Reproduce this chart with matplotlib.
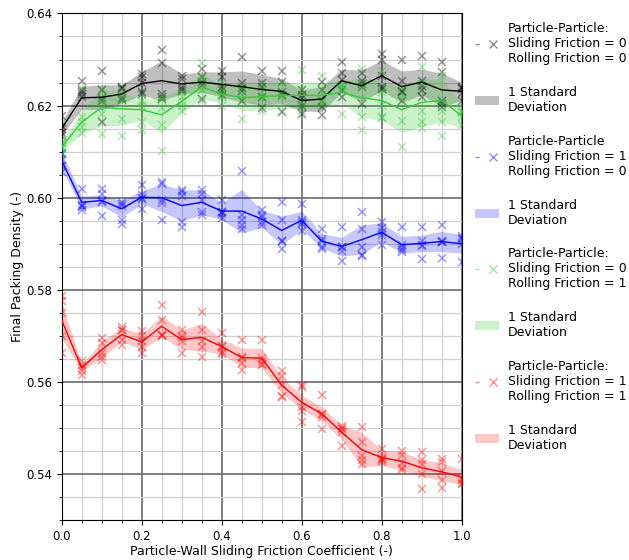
import matplotlib.pyplot as plt
from matplotlib.lines import Line2D
from matplotlib.patches import Patch
from matplotlib.legend_handler import HandlerTuple
from matplotlib.ticker import MultipleLocator
import numpy as np

friction = [0.0, 0.05, 0.1, 0.15, 0.2, 0.25, 0.3, 0.35, 0.4, 0.45, 0.5,
            0.55, 0.6, 0.65, 0.7, 0.75, 0.8, 0.85, 0.9, 0.95, 1.0]

# sliding 0 / rolling 0
mean_s0_r0 = [0.6150, 0.6217, 0.6218, 0.6225, 0.6248, 0.6254, 0.6247, 0.6251, 0.6246, 0.6241, 0.6235,
              0.6231, 0.6211, 0.6214, 0.6254, 0.6243, 0.6265, 0.6241, 0.6251, 0.6234, 0.6231]
std_s0_r0 = [0.0015, 0.0025, 0.0027, 0.0020, 0.0025, 0.0043, 0.0022, 0.0022, 0.0027, 0.0034, 0.0033,
             0.0027, 0.0023, 0.0027, 0.0025, 0.0034, 0.0033, 0.0034, 0.0028, 0.0036, 0.0020]
runs_s0_r0 = [
    [0.6178, 0.6150, 0.6140, 0.6135, 0.6155],
    [0.6253, 0.6233, 0.6229, 0.6226, 0.6218],
    [0.6274, 0.6233, 0.6217, 0.6211, 0.6165],
    [0.6241, 0.6238, 0.6217, 0.6212, 0.6235],
    [0.6269, 0.6263, 0.6248, 0.6230, 0.6225],
    [0.6321, 0.6292, 0.6225, 0.6219, 0.6214],
    [0.6265, 0.6258, 0.6236, 0.6240, 0.6232],
    [0.6280, 0.6261, 0.6251, 0.6245, 0.6214],
    [0.6274, 0.6261, 0.6240, 0.6233, 0.6222],
    [0.6306, 0.6248, 0.6238, 0.6232, 0.6211],
    [0.6274, 0.6248, 0.6240, 0.6218, 0.6195],
    [0.6276, 0.6251, 0.6229, 0.6222, 0.6186],
    [0.6234, 0.6217, 0.6200, 0.6182, 0.6222],
    [0.6251, 0.6233, 0.6196, 0.6180, 0.6210],
    [0.6294, 0.6270, 0.6256, 0.6233, 0.6218],
    [0.6270, 0.6254, 0.6241, 0.6204, 0.6246],
    [0.6312, 0.6298, 0.6264, 0.6240, 0.6236],
    [0.6299, 0.6254, 0.6229, 0.6211, 0.6232],
    [0.6308, 0.6254, 0.6243, 0.6233, 0.6218],
    [0.6294, 0.6272, 0.6211, 0.6196, 0.6204],
    [0.6241, 0.6211, 0.6235, 0.6228, 0.6238],
]

# sliding 1 / rolling 0
mean_s1_r0 = [0.6081, 0.5990, 0.5994, 0.5976, 0.6001, 0.6000, 0.5983, 0.5990, 0.5971, 0.5971, 0.5954,
              0.5929, 0.5951, 0.5906, 0.5894, 0.5909, 0.5925, 0.5898, 0.5901, 0.5905, 0.5900]
std_s1_r0 = [0.0018, 0.0014, 0.0012, 0.0018, 0.0014, 0.0030, 0.0034, 0.0027, 0.0018, 0.0047, 0.0019,
             0.0031, 0.0020, 0.0016, 0.0020, 0.0032, 0.0020, 0.0018, 0.0018, 0.0022, 0.0020]
runs_s1_r0 = [
    [0.6095, 0.6081, 0.6068, 0.6056, 0.6098],
    [0.6020, 0.5983, 0.5980, 0.5973, 0.5985],
    [0.6020, 0.6009, 0.5991, 0.5960, 0.5993],
    [0.5991, 0.5983, 0.5951, 0.5944, 0.5986],
    [0.6027, 0.6005, 0.6000, 0.5976, 0.5997],
    [0.6034, 0.6030, 0.5996, 0.5952, 0.5988],
    [0.6016, 0.6012, 0.5947, 0.5936, 0.6004],
    [0.6016, 0.6009, 0.5994, 0.5969, 0.5962],
    [0.5996, 0.5969, 0.5964, 0.5957, 0.5968],
    [0.6058, 0.5962, 0.5951, 0.5940, 0.5933],
    [0.5973, 0.5962, 0.5947, 0.5940, 0.5958],
    [0.5991, 0.5951, 0.5907, 0.5889, 0.5907],
    [0.5986, 0.5951, 0.5944, 0.5947, 0.5927],
    [0.5933, 0.5907, 0.5889, 0.5893, 0.5910],
    [0.5936, 0.5894, 0.5863, 0.5894, 0.5884],
    [0.5969, 0.5933, 0.5894, 0.5875, 0.5874],
    [0.5947, 0.5935, 0.5897, 0.5925, 0.5920],
    [0.5936, 0.5897, 0.5882, 0.5887, 0.5890],
    [0.5936, 0.5907, 0.5868, 0.5896, 0.5898],
    [0.5940, 0.5907, 0.5870, 0.5905, 0.5903],
    [0.5918, 0.5900, 0.5860, 0.5912, 0.5910],
]

# sliding 0 / rolling 1
mean_s0_r1 = [0.6110, 0.6164, 0.6196, 0.6193, 0.6191, 0.6180, 0.6209, 0.6241, 0.6225, 0.6218, 0.6219,
              0.6222, 0.6222, 0.6222, 0.6229, 0.6217, 0.6211, 0.6191, 0.6207, 0.6211, 0.6178]
std_s0_r1 = [0.0010, 0.0025, 0.0040, 0.0036, 0.0022, 0.0040, 0.0025, 0.0028, 0.0018, 0.0029, 0.0029,
             0.0029, 0.0026, 0.0029, 0.0023, 0.0043, 0.0042, 0.0050, 0.0052, 0.0047, 0.0025]
runs_s0_r1 = [
    [0.6125, 0.6105, 0.6095, 0.6118, 0.6110],
    [0.6236, 0.6175, 0.6164, 0.6153, 0.6140],
    [0.6236, 0.6217, 0.6207, 0.6182, 0.6138],
    [0.6234, 0.6225, 0.6214, 0.6171, 0.6135],
    [0.6222, 0.6211, 0.6200, 0.6164, 0.6146],
    [0.6218, 0.6212, 0.6157, 0.6102, 0.6195],
    [0.6229, 0.6218, 0.6211, 0.6200, 0.6189],
    [0.6292, 0.6261, 0.6251, 0.6233, 0.6211],
    [0.6251, 0.6233, 0.6222, 0.6218, 0.6200],
    [0.6240, 0.6225, 0.6211, 0.6171, 0.6243],
    [0.6247, 0.6225, 0.6189, 0.6215, 0.6230],
    [0.6251, 0.6218, 0.6189, 0.6230, 0.6220],
    [0.6277, 0.6233, 0.6189, 0.6210, 0.6200],
    [0.6265, 0.6233, 0.6204, 0.6210, 0.6213],
    [0.6240, 0.6233, 0.6182, 0.6245, 0.6245],
    [0.6280, 0.6240, 0.6175, 0.6146, 0.6245],
    [0.6276, 0.6229, 0.6175, 0.6173, 0.6202],
    [0.6240, 0.6212, 0.6167, 0.6110, 0.6226],
    [0.6283, 0.6247, 0.6189, 0.6164, 0.6152],
    [0.6265, 0.6189, 0.6164, 0.6135, 0.6202],
    [0.6189, 0.6157, 0.6175, 0.6185, 0.6184],
]

# sliding 1 / rolling 1
mean_s1_r1 = [0.5734, 0.5631, 0.5670, 0.5703, 0.5687, 0.5721, 0.5692, 0.5697, 0.5677, 0.5653, 0.5652,
              0.5593, 0.5556, 0.5531, 0.5491, 0.5453, 0.5436, 0.5428, 0.5414, 0.5405, 0.5394]
std_s1_r1 = [0.0040, 0.0007, 0.0018, 0.0015, 0.0017, 0.0023, 0.0021, 0.0030, 0.0016, 0.0021, 0.0021,
             0.0018, 0.0015, 0.0015, 0.0015, 0.0038, 0.0016, 0.0020, 0.0018, 0.0019, 0.0016]
runs_s1_r1 = [
    [0.5786, 0.5775, 0.5749, 0.5699, 0.5663],
    [0.5645, 0.5637, 0.5630, 0.5616, 0.5625],
    [0.5695, 0.5663, 0.5655, 0.5648, 0.5685],
    [0.5720, 0.5713, 0.5692, 0.5681, 0.5712],
    [0.5710, 0.5688, 0.5676, 0.5663, 0.5700],
    [0.5767, 0.5735, 0.5702, 0.5699, 0.5702],
    [0.5713, 0.5695, 0.5663, 0.5700, 0.5689],
    [0.5753, 0.5713, 0.5677, 0.5654, 0.5690],
    [0.5706, 0.5679, 0.5676, 0.5665, 0.5660],
    [0.5692, 0.5652, 0.5641, 0.5626, 0.5654],
    [0.5692, 0.5652, 0.5637, 0.5645, 0.5640],
    [0.5623, 0.5612, 0.5594, 0.5569, 0.5567],
    [0.5593, 0.5590, 0.5546, 0.5538, 0.5513],
    [0.5572, 0.5531, 0.5524, 0.5499, 0.5530],
    [0.5499, 0.5491, 0.5462, 0.5505, 0.5500],
    [0.5502, 0.5470, 0.5431, 0.5440, 0.5422],
    [0.5455, 0.5436, 0.5426, 0.5432, 0.5431],
    [0.5451, 0.5441, 0.5410, 0.5425, 0.5413],
    [0.5448, 0.5423, 0.5368, 0.5430, 0.5401],
    [0.5433, 0.5407, 0.5387, 0.5371, 0.5427],
    [0.5433, 0.5387, 0.5379, 0.5390, 0.5381],
]

labels = [
    "Particle-Particle:\nSliding Friction = 0\nRolling Friction = 0",
    "Particle-Particle\nSliding Friction = 1\nRolling Friction = 0",
    "Particle-Particle:\nSliding Friction = 0\nRolling Friction = 1",
    "Particle-Particle:\nSliding Friction = 1\nRolling Friction = 1",
]
colors = ["k", "b", "limegreen", "r"]
band_alpha = [0.25, 0.22, 0.25, 0.22]

series = [
    (mean_s0_r0, std_s0_r0, runs_s0_r0),
    (mean_s1_r0, std_s1_r0, runs_s1_r0),
    (mean_s0_r1, std_s0_r1, runs_s0_r1),
    (mean_s1_r1, std_s1_r1, runs_s1_r1),
]

plt.rcParams["font.size"] = 9

fig = plt.figure(figsize=(6.29, 5.6), dpi=100)
ax = fig.add_axes([0.098, 0.071, 0.636, 0.905])

x = np.array(friction)
handles = []
names = []
for (m, s, runs), c, a, lab in zip(series, colors, band_alpha, labels):
    m = np.array(m)
    s = np.array(s)
    runs = np.array(runs)
    ax.plot(np.repeat(x, runs.shape[1]), runs.ravel(), "x", color=c, alpha=0.4,
            markersize=6, mew=1.1, zorder=3)
    ax.fill_between(x, m - s, m + s, color=c, alpha=a, lw=0, zorder=2)
    ax.plot(x, m, "-", color=c, lw=1, zorder=4)

    dash = Line2D([], [], color=c, alpha=0.45, lw=1, ls=(0, (3, 30)))
    mark = Line2D([], [], color=c, alpha=0.45, ls="none", marker="x", markersize=6)
    handles.append((dash, mark))
    names.append(lab)
    handles.append(Patch(facecolor=c, alpha=a, edgecolor="none"))
    names.append("1 Standard\nDeviation")

ax.set_xlim(0, 1.0)
ax.set_ylim(0.53, 0.64)
ax.xaxis.set_major_locator(MultipleLocator(0.2))
ax.xaxis.set_minor_locator(MultipleLocator(0.05))
ax.yaxis.set_major_locator(MultipleLocator(0.02))
ax.yaxis.set_minor_locator(MultipleLocator(0.005))
ax.tick_params(labelsize=8.5)
ax.grid(which="major", color="#6a6a6a", lw=1.2)
ax.grid(which="minor", color="#cfcfcf", lw=0.9)
ax.set_axisbelow(True)

ax.set_xlabel("Particle-Wall Sliding Friction Coefficient (-)", labelpad=1.5)
ax.set_ylabel("Final Packing Density (-)", labelpad=1.5)

fig.legend(handles, names, loc="upper left", bbox_to_anchor=(0.747, 0.969),
           borderaxespad=0, frameon=False, labelspacing=1.66,
           handlelength=1.92, handletextpad=0.72,
           handler_map={tuple: HandlerTuple(ndivide=2, pad=0.0)})

fig.savefig("out.png", dpi=100)
